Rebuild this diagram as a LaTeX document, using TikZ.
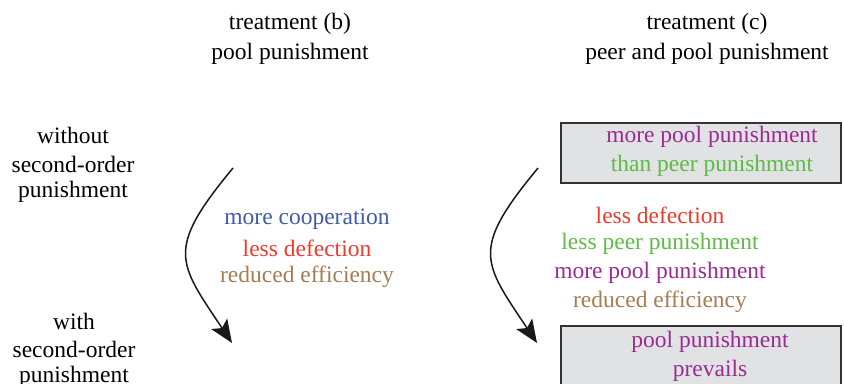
\documentclass[tikz,border=0pt]{standalone}
\usepackage{fontspec}
\setmainfont{Liberation Serif}
\usetikzlibrary{arrows.meta}
\definecolor{cblue}{HTML}{3F5BA9}
\definecolor{cred}{HTML}{EE3A2E}
\definecolor{cbrown}{HTML}{A67C52}
\definecolor{cpurple}{HTML}{9B2A93}
\definecolor{cgreen}{HTML}{5DBB46}
\definecolor{boxfill}{HTML}{E1E2E4}
\definecolor{boxline}{HTML}{333333}
\begin{document}
\begin{tikzpicture}[x=1bp,y=-1bp,
  lbl/.style={font=\fontsize{23.5bp}{29bp}\selectfont, inner sep=0pt, align=center, yshift=-2bp},
  flow/.style={line width=1.5bp, draw=black!90, -{Stealth[length=23bp,width=19bp,inset=5bp]}},
  gbox/.style={draw=boxline, line width=2bp, fill=boxfill}]
\useasboundingbox (0,0) rectangle (844,383);
% headers
\node[lbl] (hb1) at (290,22) {treatment (b)};
\node[lbl] (hb2) at (290,52) {pool punishment};
\node[lbl] (hc1) at (707,22) {treatment (c)};
\node[lbl] (hc2) at (707,52) {peer and pool punishment};
% row labels
\node[lbl] (w1) at (73,133) {without};
\node[lbl] (w2) at (73,162) {second-order};
\node[lbl] (w3) at (73,190) {punishment};
\node[lbl] (v1) at (74,319) {with};
\node[lbl] (v2) at (74,347) {second-order};
\node[lbl] (v3) at (74,375) {punishment};
% boxes
\draw[gbox] (561,123) rectangle (841,183);
\path[gbox] (561,326) rectangle (841,395);
\node[lbl, text=cpurple] (bx1) at (712,135) {more pool punishment};
\node[lbl, text=cgreen] (bx2) at (712,164) {than peer punishment};
\node[lbl, text=cpurple] (by1) at (710,340) {pool punishment};
\node[lbl, text=cpurple] (by2) at (710,369) {prevails};
% middle texts b
\node[lbl, text=cblue] (mb1) at (307,217) {more cooperation};
\node[lbl, text=cred] (mb2) at (307,246) {less defection};
\node[lbl, text=cbrown] (mb3) at (307,275) {reduced efficiency};
% middle texts c
\node[lbl, text=cred] (mc1) at (660,213) {less defection};
\node[lbl, text=cgreen] (mc2) at (660,242) {less peer punishment};
\node[lbl, text=cpurple] (mc3) at (660,271) {more pool punishment};
\node[lbl, text=cbrown] (mc4) at (660,300) {reduced efficiency};
% arrows
\coordinate (ab0) at (233,168);
\coordinate (ab1) at (232,343);
\coordinate (ac0) at (538,168);
\coordinate (ac1) at (537,343);
\draw[flow] (ab0) .. controls (165,250) and (178,262) .. (ab1);
\draw[flow] (ac0) .. controls (470,250) and (483,262) .. (ac1);
\end{tikzpicture}
\end{document}
